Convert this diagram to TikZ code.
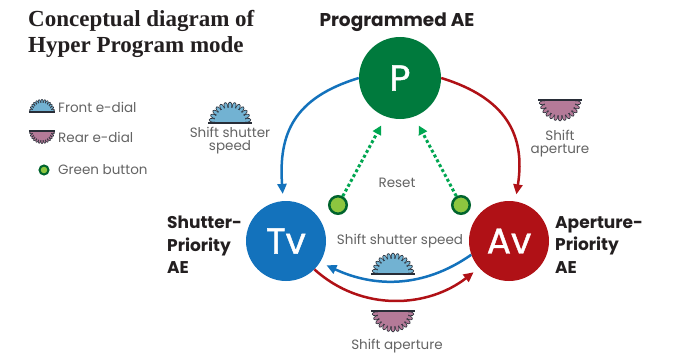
\documentclass[tikz,border=0pt]{standalone}
\usepackage{fontspec}
\setmainfont{Poppins}
\newfontfamily\titlefont{Liberation Serif}
\newfontfamily\modefont[FakeBold=1.2]{Poppins}
\usetikzlibrary{arrows.meta}

\definecolor{pgreen}{RGB}{0,122,61}
\definecolor{tvblue}{RGB}{19,114,188}
\definecolor{avred}{RGB}{176,17,22}
\definecolor{resetgreen}{RGB}{0,166,81}
\definecolor{btnfill}{RGB}{141,198,63}
\definecolor{btnring}{RGB}{0,100,45}
\definecolor{frontfill}{RGB}{114,178,210}
\definecolor{rearfill}{RGB}{180,122,152}
\definecolor{dialline}{RGB}{40,45,55}
\definecolor{txtgray}{RGB}{100,100,100}
\definecolor{txtdark}{RGB}{35,31,32}

\tikzset{
  mode/.style={circle, minimum size=80pt, inner sep=0pt, text=white, font=\modefont\fontsize{36}{36}\selectfont},
  modelabel/.style={text=txtdark, font=\fontsize{17}{22.5}\selectfont\bfseries, align=left, inner sep=0pt},
  note/.style={text=txtgray, font=\fontsize{13.5}{13}\selectfont, align=center, inner sep=0pt},
  button/.style={circle, minimum size=17.5pt, inner sep=0pt, fill=btnfill, draw=btnring, line width=2.5pt},
  ringarrow/.style={line width=2.5pt, -{Triangle[length=10pt,width=9pt]}, shorten >=7pt},
  resetarrow/.style={resetgreen, line width=3pt, dash pattern=on 3pt off 2.5pt, -{Triangle[length=9pt,width=9pt]}, shorten >=10pt},
  pics/dial/.style={code={
    \draw[dialline, line width=0.6pt, fill=#1] (16,0) arc (0:180:16) -- cycle;
    \foreach \a in {9,22.5,...,171}
      \draw[dialline, line width=0.6pt, fill=#1, rotate=\a] (17.5,0) ellipse (3.5 and 1.9);
    \fill[#1] (15.6,0) arc (0:180:15.6) -- cycle;
    \draw[dialline, line width=1.3pt] (-22,0) -- (22,0);
  }},
}

\begin{document}
\begin{tikzpicture}[x=1pt, y=1pt]
\path[fill=white, use as bounding box] (0,0) rectangle (684,-353);

% title
\node[anchor=north west, inner sep=0pt, align=left, text=txtdark, font=\titlefont\fontsize{23}{26}\selectfont\bfseries] (title) at (28,-10) {Conceptual diagram of\\Hyper Program mode};

% legend
\pic[scale=0.6] at (42,-112) {dial=frontfill};
\node[note, anchor=west] (legfront) at (58,-107) {Front e-dial};
\pic[scale=0.6, yscale=-1] at (42,-131) {dial=rearfill};
\node[note, anchor=west] (legrear) at (58,-137) {Rear e-dial};
\node[button, minimum size=9pt, line width=2pt] (legbtn) at (44,-170) {};
\node[note, anchor=west] (legbutton) at (58,-170) {Green button};

% modes
\node[mode, fill=pgreen, minimum size=82pt] (P) at (400,-78) {P};
\node[mode, fill=tvblue] (Tv) at (286,-241) {Tv};
\node[mode, fill=avred] (Av) at (509,-241) {Av};

\node[modelabel, align=center, font=\fontsize{18.5}{22.5}\selectfont\bfseries] (Plabel) at (397,-22) {Programmed AE};
\node[modelabel, anchor=west] (Tvlabel) at (167,-245) {Shutter-\\Priority\\AE};
\node[modelabel, anchor=west] (Avlabel) at (555,-245) {Aperture-\\Priority\\AE};

% ring arrows
\draw[ringarrow, tvblue] (P.west) to[out=197, in=94, looseness=1.2] (Tv.94);
\draw[ringarrow, avred] (P.east) to[out=-17, in=81, looseness=1.2] (Av.81);
\draw[ringarrow, tvblue] (Av.200) to[out=215, in=-25] (Tv.-32);
\draw[ringarrow, avred] (Tv.-45) to[out=-42, in=218] (Av.222);

% reset buttons
\node[button] (bl) at (338,-205) {};
\node[button] (br) at (461,-205) {};
\draw[resetarrow] (bl) -- (P.-110);
\draw[resetarrow] (br) -- (P.-70);
\node[note] (reset) at (397,-183) {Reset};

% dials
\pic at (230,-123) {dial=frontfill};
\node[note] (shiftTv) at (230,-141) {Shift shutter\\speed};
\pic[yscale=-1] at (560,-100) {dial=rearfill};
\node[note] (shiftAv) at (560,-144) {Shift\\aperture};
\node[note] (shiftTvb) at (400,-241) {Shift shutter speed};
\pic at (393,-274) {dial=frontfill};
\pic[yscale=-1] at (393,-311) {dial=rearfill};
\node[note] (shiftAvb) at (397,-346) {Shift aperture};

\end{tikzpicture}
\end{document}
